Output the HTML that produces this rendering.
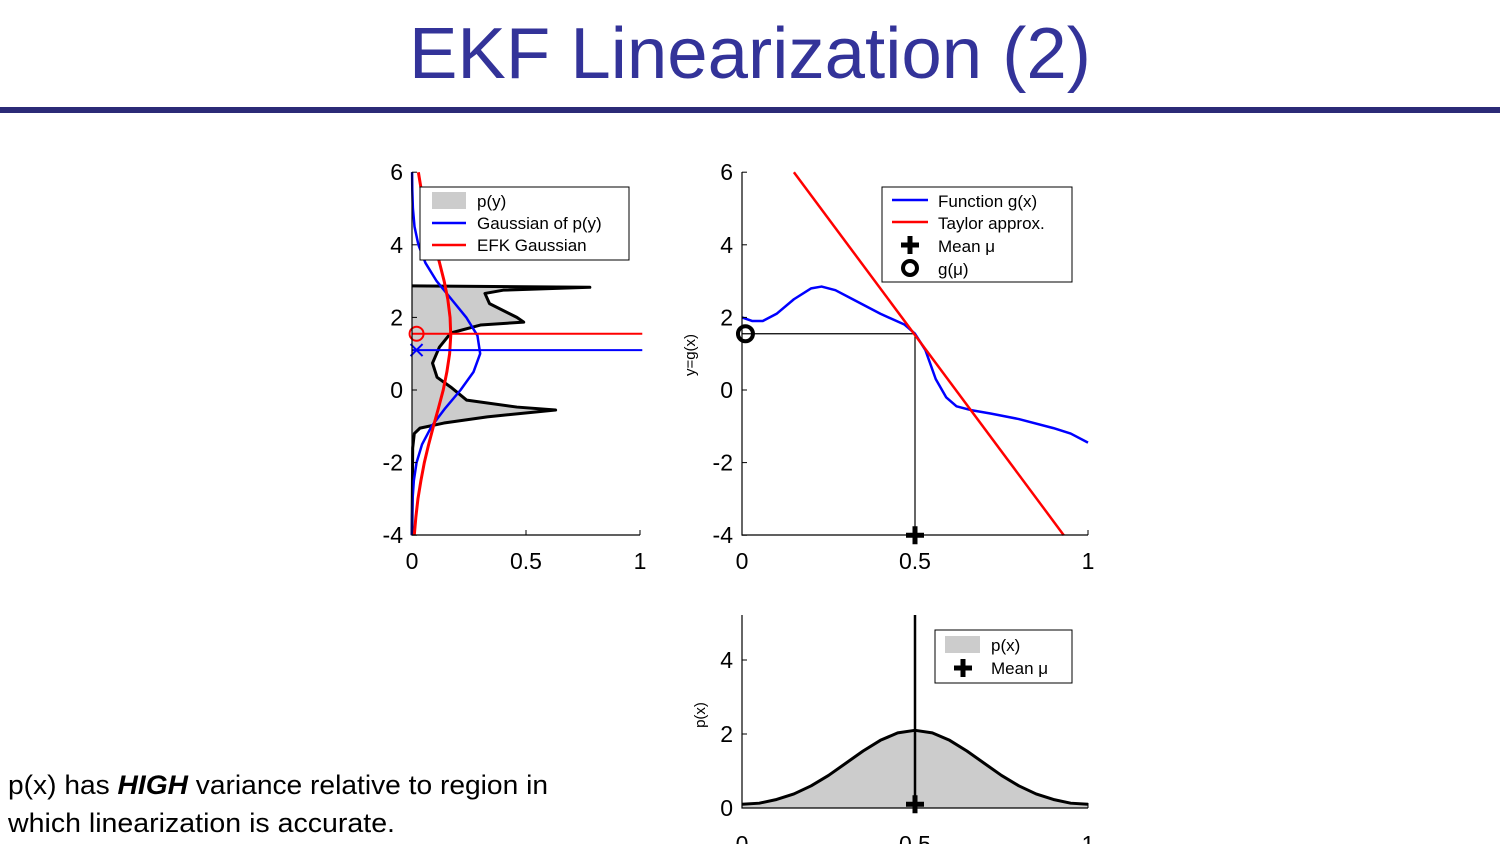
<!DOCTYPE html>
<html><head><meta charset="utf-8">
<style>
html,body{margin:0;padding:0;background:#fff;}
svg{display:block;}
text{font-family:"Liberation Sans","DejaVu Sans",sans-serif;}
</style></head>
<body>
<svg id="s" width="1500" height="844" viewBox="0 0 1500 844" xmlns="http://www.w3.org/2000/svg">
<text x="750" y="78" text-anchor="middle" font-size="72" fill="#333399" textLength="682" lengthAdjust="spacingAndGlyphs">EKF Linearization (2)</text>
<rect x="0" y="107" width="1500" height="6" fill="#2B2A77"/>
<text x="8" y="794" font-size="27" fill="#000" textLength="540" lengthAdjust="spacingAndGlyphs">p(x) has <tspan font-weight="bold" font-style="italic">HIGH</tspan> variance relative to region in</text>
<text x="8" y="832" font-size="27" fill="#000" textLength="387" lengthAdjust="spacingAndGlyphs">which linearization is accurate.</text>
<g id="gL"></g>
<g id="gR"></g>
<g id="gB"></g>
</svg>
<script>
// ---- left chart data: p(y) ----
const pyY = [-4,-2.5,-1.6,-1.2,-1.05,-0.91,-0.74,-0.55,-0.47,-0.28,0.08,0.35,0.74,1.18,1.57,1.79,1.87,2.0,2.38,2.66,2.75,2.83,2.87];
const pyD = [0,0.002,0.003,0.01,0.035,0.14,0.33,0.63,0.46,0.24,0.17,0.11,0.09,0.12,0.17,0.30,0.49,0.46,0.34,0.32,0.40,0.78,0];
const gaussY = [-4,-3.5,-3,-2.5,-2,-1.5,-1,-0.5,0,0.5,1,1.5,2,2.5,3,3.5,4,4.5,5,5.5,6];
const blueD = [0.0002,0.0007,0.0026,0.008,0.02,0.044,0.086,0.146,0.213,0.27,0.299,0.287,0.238,0.173,0.108,0.059,0.028,0.011,0.004,0.0013,0.0004];
const redD = [0.010,0.017,0.026,0.039,0.054,0.073,0.094,0.116,0.137,0.153,0.165,0.17,0.167,0.157,0.141,0.121,0.099,0.077,0.058,0.041,0.028];
const blueMean = 1.1, redMean = 1.55;
const yTicks = [-4,-2,0,2,4,6];
const xTicks = [0,0.5,1];
const xTickLabels = ['0','0.5','1'];
// ---- right chart data: g(x) ----
const gX = [0,0.03,0.06,0.1,0.15,0.2,0.23,0.27,0.32,0.4,0.47,0.5,0.53,0.56,0.59,0.62,0.66,0.72,0.8,0.9,0.95,1.0];
const gY = [2.0,1.9,1.9,2.1,2.5,2.8,2.85,2.75,2.5,2.1,1.8,1.55,1.1,0.3,-0.2,-0.45,-0.55,-0.65,-0.8,-1.05,-1.2,-1.45];
const tayX = [0.15,0.93];
const tayY = [6,-4];
const mu = 0.5, gmu = 1.55;
// ---- bottom chart data: p(x) ----
const pxX = [0,0.05,0.1,0.15,0.2,0.25,0.3,0.35,0.4,0.45,0.5,0.55,0.6,0.65,0.7,0.75,0.8,0.85,0.9,0.95,1];
const pxD = [0.1,0.13,0.23,0.38,0.6,0.88,1.21,1.54,1.83,2.03,2.1,2.03,1.83,1.54,1.21,0.88,0.6,0.38,0.23,0.13,0.1];
const bTicks = [0,2,4];

const NS='http://www.w3.org/2000/svg';
function mk(parent,tag,attrs){const e=document.createElementNS(NS,tag);for(const k in attrs)e.setAttribute(k,attrs[k]);parent.appendChild(e);return e;}
function txt(parent,x,y,s,size,anchor){const t=mk(parent,'text',{x:x,y:y,'font-size':size,'text-anchor':anchor||'start',fill:'#000'});t.textContent=s;return t;}

const Lx=v=>412+v*228, Ly=v=>390-v*36.3;
const Rx=v=>742+v*346, Ry=v=>390-v*36.3;
const Bx=v=>742+v*346, By=v=>808-v*37;

function axes(g,x0,x1,yTop,yBot,xs,ys,yt,ytl,xt){
  const ax=mk(g,'path',{d:`M${x0},${yTop}V${yBot}H${x1}`,fill:'none',stroke:'#000','stroke-width':1.2});
  
  yt.forEach(v=>{mk(g,'line',{x1:x0,x2:x0+5,y1:ys(v),y2:ys(v),stroke:'#000'});
    const t=txt(g,x0-9,ys(v)+8,String(v),23,'end');
    });
  xt.forEach((v,i)=>{mk(g,'line',{x1:xs(v),x2:xs(v),y1:yBot,y2:yBot-5,stroke:'#000'});
    const t=txt(g,xs(v),yBot+34,xTickLabels[i],23,'middle');
    });
}
function plus(g,x,y){const p=mk(g,'path',{d:`M${x-9},${y}H${x+9}M${x},${y-9}V${y+9}`,stroke:'#000','stroke-width':5});return p;}

// ---- Left ----
const gL=document.getElementById('gL');
let d='M'+Lx(0)+','+Ly(pyY[0]);
pyY.forEach((y,i)=>d+=' L'+Lx(pyD[i])+','+Ly(y));
d+=' Z';
const area=mk(gL,'path',{d:d,fill:'#cccccc',stroke:'none'});

const pyl=mk(gL,'polyline',{points:pyY.map((y,i)=>Lx(pyD[i])+','+Ly(y)).join(' '),fill:'none',stroke:'#000','stroke-width':3,'stroke-linejoin':'round'});

const bl=mk(gL,'polyline',{points:gaussY.map((y,i)=>Lx(blueD[i])+','+Ly(y)).join(' '),fill:'none',stroke:'#0000ff','stroke-width':2.5,'stroke-linejoin':'round'});

const rl=mk(gL,'polyline',{points:gaussY.map((y,i)=>Lx(redD[i])+','+Ly(y)).join(' '),fill:'none',stroke:'#ff0000','stroke-width':3,'stroke-linejoin':'round'});

const bh=mk(gL,'line',{x1:Lx(0),x2:Lx(1.01),y1:Ly(blueMean),y2:Ly(blueMean),stroke:'#0000ff','stroke-width':2});

const rh=mk(gL,'line',{x1:Lx(0),x2:Lx(1.01),y1:Ly(redMean),y2:Ly(redMean),stroke:'#ff0000','stroke-width':2});

const bx=mk(gL,'path',{d:`M${Lx(0.02)-6},${Ly(blueMean)-6}l12,12m0,-12l-12,12`,stroke:'#0000ff','stroke-width':2});

const rc=mk(gL,'circle',{cx:Lx(0.02),cy:Ly(redMean),r:7,fill:'none',stroke:'#ff0000','stroke-width':2});

axes(gL,412,640,172,535,Lx,Ly,yTicks,null,xTicks);
const lg=mk(gL,'g',{});
mk(lg,'rect',{x:420,y:187,width:209,height:73,fill:'#fff',stroke:'#000','stroke-width':1});
mk(lg,'rect',{x:432,y:192,width:34,height:17,fill:'#cccccc'});
mk(lg,'line',{x1:432,x2:466,y1:223,y2:223,stroke:'#0000ff','stroke-width':2.5});
mk(lg,'line',{x1:432,x2:466,y1:245,y2:245,stroke:'#ff0000','stroke-width':2.5});
txt(lg,477,207,'p(y)',17);txt(lg,477,229,'Gaussian of p(y)',17);txt(lg,477,251,'EFK Gaussian',17);

// ---- Right ----
const gR=document.getElementById('gR');
const guide=mk(gR,'path',{d:`M${Rx(0)},${Ry(gmu)}H${Rx(mu)}V${Ry(-4)}`,fill:'none',stroke:'#000','stroke-width':1.2});

const gl=mk(gR,'polyline',{points:gX.map((x,i)=>Rx(x)+','+Ry(gY[i])).join(' '),fill:'none',stroke:'#0000ff','stroke-width':2.5,'stroke-linejoin':'round'});

const tl=mk(gR,'polyline',{points:tayX.map((x,i)=>Rx(x)+','+Ry(tayY[i])).join(' '),fill:'none',stroke:'#ff0000','stroke-width':2.5});

axes(gR,742,1088,172,535,Rx,Ry,yTicks,null,xTicks);
const pm=plus(gR,Rx(mu),Ry(-4));
const cm=mk(gR,'circle',{cx:Rx(0.01),cy:Ry(gmu),r:7.5,fill:'none',stroke:'#000','stroke-width':4});

const yl=txt(gR,0,0,'y=g(x)',15,'middle');yl.setAttribute('transform','translate(695,355) rotate(-90)');

const lg2=mk(gR,'g',{});
mk(lg2,'rect',{x:882,y:187,width:190,height:95,fill:'#fff',stroke:'#000','stroke-width':1});
mk(lg2,'line',{x1:892,x2:928,y1:200,y2:200,stroke:'#0000ff','stroke-width':2.5});
mk(lg2,'line',{x1:892,x2:928,y1:222,y2:222,stroke:'#ff0000','stroke-width':2.5});
plus(lg2,910,245);
mk(lg2,'circle',{cx:910,cy:268,r:7,fill:'none',stroke:'#000','stroke-width':4});
txt(lg2,938,207,'Function g(x)',17);txt(lg2,938,229,'Taylor approx.',17);txt(lg2,938,252,'Mean μ',17);txt(lg2,938,275,'g(μ)',17);

// ---- Bottom ----
const gB=document.getElementById('gB');
let d2='M'+Bx(0)+','+By(0);
pxX.forEach((x,i)=>d2+=' L'+Bx(x)+','+By(pxD[i]));
d2+=' L'+Bx(1)+','+By(0)+'Z';
const ba=mk(gB,'path',{d:d2,fill:'#cccccc',stroke:'none'});

const bo=mk(gB,'polyline',{points:pxX.map((x,i)=>Bx(x)+','+By(pxD[i])).join(' '),fill:'none',stroke:'#000','stroke-width':3,'stroke-linejoin':'round'});

const vl=mk(gB,'line',{x1:Bx(mu),x2:Bx(mu),y1:615,y2:By(0),stroke:'#000','stroke-width':2.5});

const bax=mk(gB,'path',{d:`M742,615V808H1088`,fill:'none',stroke:'#000','stroke-width':1.2});

bTicks.forEach(v=>{mk(gB,'line',{x1:742,x2:747,y1:By(v),y2:By(v),stroke:'#000'});
  const t=txt(gB,733,By(v)+8,String(v),23,'end');});
xTicks.forEach((v,i)=>{mk(gB,'line',{x1:Bx(v),x2:Bx(v),y1:808,y2:803,stroke:'#000'});
  const t=txt(gB,Bx(v),852,xTickLabels[i],23,'middle');});
const pb=plus(gB,Bx(mu),By(0.1));
const yl2=txt(gB,0,0,'p(x)',15,'middle');yl2.setAttribute('transform','translate(705,715) rotate(-90)');

const lg3=mk(gB,'g',{});
mk(lg3,'rect',{x:935,y:630,width:137,height:53,fill:'#fff',stroke:'#000','stroke-width':1});
mk(lg3,'rect',{x:945,y:636,width:35,height:17,fill:'#cccccc'});
plus(lg3,963,668);
txt(lg3,991,651,'p(x)',17);txt(lg3,991,674,'Mean μ',17);
</script>
</body></html>
